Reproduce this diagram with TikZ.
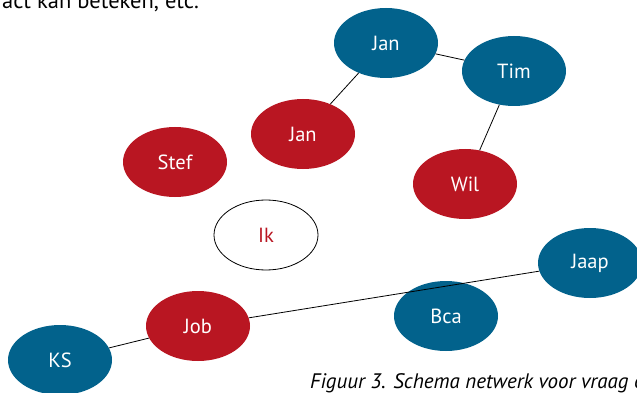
\documentclass[tikz,border=0pt]{standalone}
\usepackage{fontspec}
\setmainfont{PT Sans}
\usetikzlibrary{shapes.geometric}
\definecolor{netblue}{RGB}{2,98,140}
\definecolor{netred}{RGB}{185,22,34}
\tikzset{
  person/.style={ellipse, minimum width=104pt, minimum height=70pt, inner sep=0pt,
    font=\fontsize{20.5}{20.5}\selectfont},
  blueperson/.style={person, fill=netblue, text=white},
  redperson/.style={person, fill=netred, text=white},
  self/.style={person, draw=black, line width=0.8pt, fill=white, text=netred},
  tie/.style={draw=black, line width=0.8pt}
}
\begin{document}
\begin{tikzpicture}[x=1pt, y=-1pt]
\useasboundingbox (0,0) rectangle (637,393);
\clip (0,0) rectangle (637,393);

% running text above and caption below
\node[anchor=base east, inner sep=0pt, font=\fontsize{22.5}{22.5}\selectfont] (prose) at (199,8.5) {act kan beteken, etc.};
\node[anchor=base west, inner sep=0pt, font=\fontsize{21}{21}\selectfont\itshape] (caption) at (310,388) {Figuur 3. Schema netwerk voor vraag o};

% people in the network
\node[blueperson] (jan1) at (386,43) {Jan};
\node[blueperson] (tim) at (514,71) {Tim};
\node[redperson] (jan2) at (303,134) {Jan};
\node[redperson] (stef) at (175,162) {Stef};
\node[redperson] (wil) at (465,184) {Wil};
\node[self] (ik) at (266,235) {Ik};
\node[blueperson] (jaap) at (590,263) {Jaap};
\node[blueperson] (bca) at (446,316) {Bca};
\node[redperson] (job) at (198,326) {Job};
\node[blueperson] (ks) at (60,360) {KS};

% ties
\draw[tie] (jan1) -- (jan2);
\draw[tie] (jan1) -- (tim);
\draw[tie] (tim) -- (wil);
\draw[tie] (job) -- (jaap);
\draw[tie] (ks) -- (job);
\end{tikzpicture}
\end{document}
